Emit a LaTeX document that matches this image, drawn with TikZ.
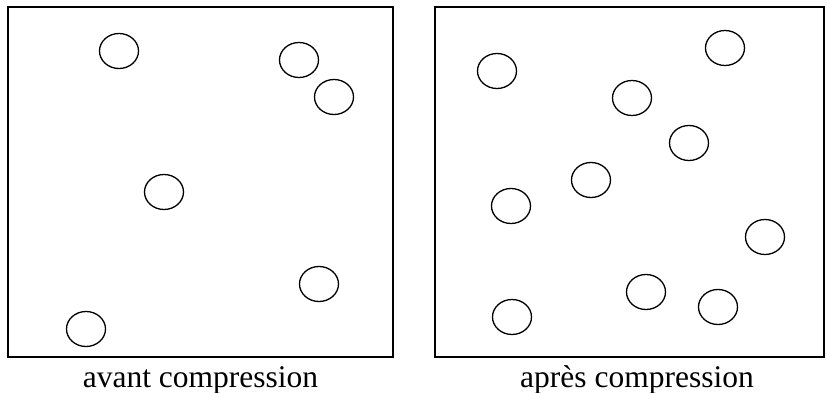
\documentclass[tikz,border=0pt]{standalone}
\usepackage{fontspec}
\setmainfont{Liberation Serif}
\usepackage{tikz}
\usetikzlibrary{shapes.geometric}

\begin{document}
\begin{tikzpicture}[x=1pt,y=-1pt,
  boite/.style={line width=1.6pt},
  molec/.style={draw,ellipse,line width=1.3pt,inner sep=0pt,
                minimum width=39pt,minimum height=35pt},
  legende/.style={anchor=base,font=\fontsize{31.5}{36}\selectfont}]
 \useasboundingbox (0,0) rectangle (827,393);
 % avant compression
 \draw[boite] (8,7) rectangle (393,357);
 \foreach \nom/\px/\py in {a1/119/51,a2/299/60,a3/334/97,a4/164/192,
                          a5/319/284,a6/86/329}
  \node[molec] (\nom) at (\px,\py) {};
 \node[legende] (avant) at (200.5,387) {avant compression};
 % après compression
 \draw[boite] (435,7) rectangle (824,357);
 \foreach \nom/\px/\py in {b1/497/71,b2/725/48,b3/632/98,b4/689/143,
                          b5/591/180,b6/511/206,b7/765/237,b8/646/292,
                          b9/718/307,b10/512/317}
  \node[molec] (\nom) at (\px,\py) {};
 \node[legende] (apres) at (637,387) {après compression};
\end{tikzpicture}
\end{document}
